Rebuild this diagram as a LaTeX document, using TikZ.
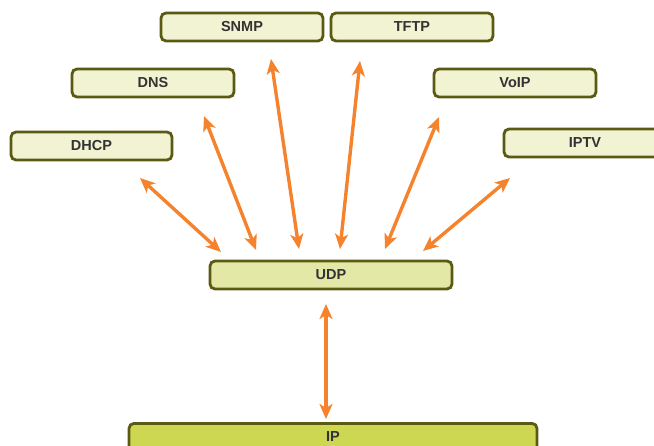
\documentclass[tikz,border=0pt]{standalone}
\usepackage{fontspec}
\setmainfont{Liberation Sans}
\usetikzlibrary{arrows.meta}
\definecolor{boxfill}{HTML}{F2F3D2}
\definecolor{udpfill}{HTML}{E4E8A6}
\definecolor{ipfill}{HTML}{CDD752}
\definecolor{boxline}{HTML}{5A5A12}
\definecolor{arr}{HTML}{F5822C}
\definecolor{txt}{HTML}{333333}
\begin{document}
\begin{tikzpicture}[x=1pt,y=-1pt,
  proto/.style={draw=boxline,line width=2.8pt,rounded corners=5pt,fill=boxfill,
    minimum height=28pt,inner sep=0pt,text=txt,font=\fontsize{14.5}{15}\selectfont\bfseries},
  link/.style={draw=arr,line width=3.4pt,
    {Stealth[length=15pt,width=13pt,inset=4pt]}-{Stealth[length=15pt,width=13pt,inset=4pt]}}]
\useasboundingbox (0,0) rectangle (654,445);
\node[proto,minimum width=162pt] (snmp) at (242,27) {SNMP};
\node[proto,minimum width=162pt] (tftp) at (412,27) {TFTP};
\node[proto,minimum width=162pt] (dns) at (153,83) {DNS};
\node[proto,minimum width=162pt] (voip) at (515,83) {VoIP};
\node[proto,minimum width=161pt] (dhcp) at (91.5,146) {DHCP};
\node[proto,minimum width=162pt] (iptv) at (585,143) {IPTV};
\node[proto,fill=udpfill,minimum width=242pt] (udp) at (331,275) {UDP};
\node[proto,fill=ipfill,minimum width=408pt,minimum height=34pt,anchor=north] (ip) at (333,422) {};
\node[text=txt,font=\fontsize{14.5}{15}\selectfont\bfseries] (iplabel) at (333,437) {IP};
\coordinate (a1) at (140,178); \coordinate (b1) at (221,252);
\coordinate (a2) at (204,116); \coordinate (b2) at (256,250);
\coordinate (a3) at (271,59);  \coordinate (b3) at (299,249);
\coordinate (a4) at (360,61);  \coordinate (b4) at (340,249);
\coordinate (a5) at (439,117); \coordinate (b5) at (385,249);
\coordinate (a6) at (510,178); \coordinate (b6) at (423,251);
\coordinate (a7) at (326,304); \coordinate (b7) at (326,419);
\draw[link] (a1) -- (b1);
\draw[link] (a2) -- (b2);
\draw[link] (a3) -- (b3);
\draw[link] (a4) -- (b4);
\draw[link] (a5) -- (b5);
\draw[link] (a6) -- (b6);
\draw[link] (a7) -- (b7);
\end{tikzpicture}
\end{document}
